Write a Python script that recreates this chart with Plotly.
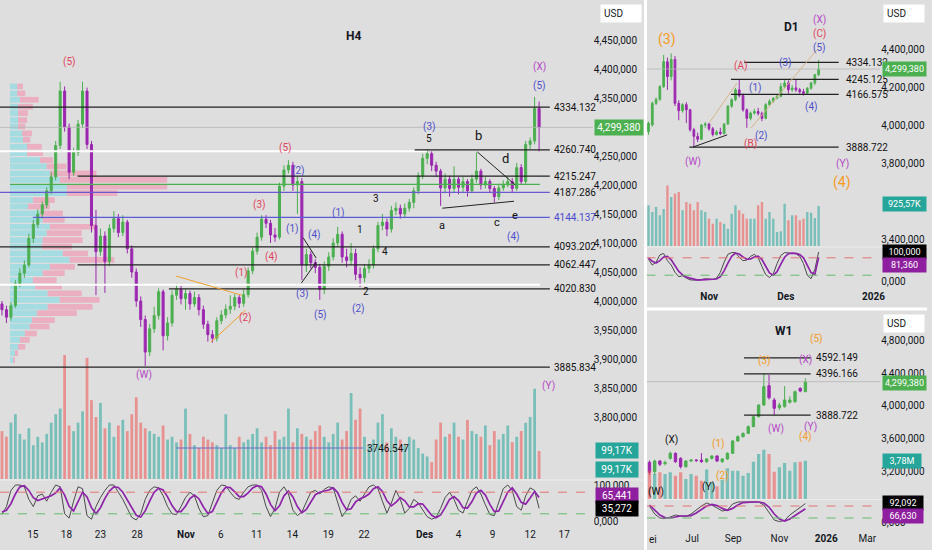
import plotly.graph_objects as go

# ---------------- H4 (main panel) ----------------
h4_close = [3985, 3972, 3992, 4030, 4048, 4062, 4108, 4132, 4150, 4166,
            4190, 4214, 4268, 4362, 4300, 4222, 4256, 4305, 4362, 4270,
            4130, 4085, 4112, 4068, 4125, 4142, 4118, 4136, 4090, 4050,
            4000, 3968, 3912, 3952, 3975, 4016, 3940, 3962, 4010, 4020,
            4004, 4013, 3995, 4006, 3985, 3960, 3942, 3936, 3966, 3976,
            3986, 3991, 4006, 3996, 4011, 4052, 4086, 4110, 4141, 4134,
            4114, 4110, 4198, 4226, 4234, 4200, 4206, 4062, 4080, 4066,
            4058, 4020, 4060, 4076, 4100, 4115, 4076, 4070, 4082, 4046,
            4040, 4056, 4062, 4090, 4130, 4136, 4124, 4156, 4160, 4150,
            4160, 4170, 4190, 4216, 4246, 4254, 4234, 4224, 4195, 4210,
            4194, 4210, 4196, 4206, 4190, 4210, 4224, 4200, 4206, 4194,
            4180, 4195, 4200, 4206, 4194, 4230, 4206, 4270, 4276, 4332,
            4299.38]
h4_high = [4000, 3992, 3998, 4036, 4056, 4070, 4116, 4140, 4158, 4172,
           4196, 4222, 4276, 4378, 4370, 4306, 4264, 4312, 4378, 4368,
           4276, 4157, 4125, 4120, 4132, 4155, 4150, 4148, 4140, 4096,
           4056, 4008, 3975, 3960, 3990, 4022, 4020, 3972, 4018, 4030,
           4026, 4020, 4018, 4016, 4012, 3992, 3966, 3950, 3972, 3984,
           3994, 4010, 4012, 4010, 4020, 4058, 4092, 4118, 4148, 4148,
           4140, 4126, 4204, 4234, 4243, 4240, 4215, 4212, 4090, 4086,
           4072, 4064, 4068, 4084, 4108, 4128, 4120, 4090, 4100, 4090,
           4058, 4064, 4072, 4096, 4136, 4150, 4142, 4164, 4170, 4166,
           4168, 4176, 4196, 4222, 4254, 4262, 4258, 4240, 4228, 4220,
           4216, 4232, 4214, 4214, 4210, 4218, 4256, 4228, 4214, 4210,
           4198, 4202, 4208, 4214, 4212, 4238, 4236, 4276, 4282, 4352,
           4344]
h4_low = [3975, 3962, 3966, 3988, 4024, 4040, 4058, 4100, 4126, 4142,
          4160, 4184, 4208, 4262, 4292, 4210, 4216, 4250, 4298, 4262,
          4118, 4010, 4078, 4014, 4060, 4118, 4110, 4112, 4082, 4040,
          3990, 3955, 3888, 3905, 3945, 3968, 3915, 3932, 3956, 4002,
          3994, 3985, 3985, 3990, 3975, 3952, 3930, 3928, 3930, 3960,
          3970, 3978, 3984, 3988, 3990, 4006, 4046, 4080, 4104, 4126,
          4100, 4102, 4106, 4190, 4220, 4190, 4150, 4036, 4050, 4056,
          4048, 4002, 4012, 4052, 4070, 4094, 4066, 4058, 4062, 4036,
          4024, 4032, 4048, 4056, 4084, 4122, 4112, 4118, 4148, 4142,
          4144, 4154, 4160, 4184, 4210, 4236, 4224, 4214, 4164, 4186,
          4180, 4188, 4184, 4188, 4180, 4186, 4204, 4192, 4194, 4186,
          4170, 4174, 4190, 4196, 4186, 4190, 4200, 4202, 4262, 4270,
          4258]
h4_first_open = 3995
h4_vol = [170, 150, 200, 230, 160, 140, 180, 120, 150, 130,
          160, 200, 230, 250, 440, 190, 170, 200, 240, 430,
          280, 220, 270, 180, 200, 150, 190, 210, 170, 230,
          290, 200, 180, 170, 160, 150, 190, 140, 150, 130,
          140, 250, 160, 120, 110, 150, 140, 130, 120, 110,
          230, 120, 110, 150, 130, 140, 160, 180, 130, 150,
          120, 170, 140, 150, 250, 130, 180, 160, 150, 140,
          170, 190, 150, 130, 160, 200, 140, 170, 305, 210,
          250, 150, 120, 140, 200, 230, 130, 180, 150, 140,
          120, 150, 140, 110, 90, 80, 60, 140, 200, 150,
          160, 200, 150, 140, 210, 170, 160, 150, 190, 120,
          170, 140, 160, 190, 130, 150, 170, 200, 220, 320,
          99.17]
h4_k = [18, 40, 85, 100, 100, 95, 60, 40, 70, 75,
        55, 80, 100, 95, 20, 8, 55, 95, 90, 15,
        5, 40, 65, 85, 100, 100, 80, 60, 35, 10,
        3, 20, 60, 85, 95, 92, 70, 40, 20, 18,
        40, 65, 80, 70, 35, 12, 15, 50, 85, 100,
        98, 80, 65, 60, 80, 95, 100, 100, 85, 40,
        12, 35, 80, 95, 75, 30, 15, 25, 55, 80,
        85, 75, 88, 95, 92, 50, 12, 30, 60, 70,
        55, 75, 95, 100, 90, 55, 22, 50, 85, 60,
        22, 35, 60, 50, 30, 12, 5, 10, 35, 65,
        80, 60, 30, 22, 55, 85, 95, 75, 45, 18,
        15, 50, 90, 100, 85, 40, 30, 70, 92, 85,
        35.272]
h4_d = [25, 30, 48, 75, 95, 98, 85, 65, 57, 62,
        67, 70, 78, 92, 72, 41, 28, 53, 80, 67,
        37, 20, 37, 63, 83, 95, 93, 80, 58, 35,
        16, 11, 28, 55, 80, 91, 86, 67, 43, 26,
        26, 41, 62, 72, 62, 39, 21, 26, 50, 78,
        94, 93, 81, 68, 68, 78, 92, 98, 95, 75,
        46, 29, 42, 70, 83, 67, 40, 23, 32, 53,
        73, 80, 83, 86, 92, 79, 51, 31, 34, 53,
        62, 67, 75, 90, 95, 82, 56, 42, 52, 65,
        56, 39, 39, 48, 47, 31, 16, 9, 17, 37,
        60, 68, 57, 37, 36, 54, 78, 85, 72, 46,
        26, 28, 52, 80, 92, 75, 52, 47, 64, 82,
        65.441]
h4_tick_pos = [6.9, 14.4, 22.0, 30.2, 41.1, 48.9, 56.9, 64.9, 72.9, 80.9,
               94.4, 102.0, 109.6, 118.0, 125.6]
h4_tick_text = ["15", "18", "23", "28", "<b>Nov</b>", "6", "11", "14", "19", "22",
                "<b>Des</b>", "4", "9", "12", "17"]
h4_price_ticks = [3800, 3850, 3900, 3950, 4000, 4050, 4100, 4150,
                  4200, 4250, 4350, 4400, 4450]
h4_price_text = ["3,800,000", "3,850,000", "3,900,000", "3,950,000",
                 "4,000,000", "4,050,000", "4,100,000", "4,150,000", "4,200,000",
                 "4,250,000", "4,350,000", "4,400,000", "4,450,000"]

# volume profile (left side of H4)
vp_price = [4370, 4358, 4347, 4335, 4324, 4312, 4301, 4289, 4278, 4266,
            4255, 4243, 4232, 4220, 4209, 4197, 4186, 4174, 4163, 4151,
            4140, 4128, 4117, 4105, 4094, 4082, 4071, 4059, 4048, 4036,
            4025, 4013, 4002, 3990, 3979, 3967, 3956, 3944, 3933, 3921,
            3910, 3898]
vp_buy = [1.6, 1.6, 2.2, 1.8, 1.8, 1.8, 1.8, 2.7, 2.9, 3.8,
          3.8, 6.7, 8.2, 8.9, 11.1, 12.7, 12.7, 5.1, 4.0, 6.7,
          7.3, 8.9, 8.2, 7.3, 7.1, 11.8, 13.3, 8.9, 7.3, 5.1,
          5.6, 8.4, 11.1, 8.4, 6.0, 4.9, 4.4, 3.3, 2.2, 1.8,
          1.1, 0.7]
vp_sell = [1.3, 1.8, 4.2, 3.3, 2.2, 2.0, 1.6, 2.2, 1.6, 3.3,
           3.6, 2.9, 4.4, 10.4, 24.0, 22.4, 11.3, 4.9, 4.9, 5.1,
           4.9, 10.4, 7.8, 8.9, 6.7, 5.6, 10.0, 5.6, 4.9, 5.3,
           6.0, 7.6, 8.9, 10.0, 8.9, 5.1, 4.4, 2.7, 2.2, 1.6,
           0.7, 0.4]
vp_start = 1.8

# labelled horizontal levels
h4_levels = [4334.132, 4260.740, 4215.247, 4187.286, 4144.137,
             4093.202, 4062.447, 4020.830, 3885.834, 3746.547]
h4_level_x0 = [-0.44, 92.2, 16.9, -0.44, 6.9, -0.44, 16.9, 37.3, -0.44, 38.9]
h4_level_x1 = [122.4, 122.4, 122.4, 122.4, 122.4, 122.4, 122.4, 122.4, 122.4, 80.7]
h4_level_col = ["#222", "#222", "#222", "#6a5acd", "#5b5bd6",
                "#222", "#222", "#222", "#222", "#6a6ac8"]
h4_label_col = ["#111", "#111", "#111", "#111", "#4a4ad0",
                "#111", "#111", "#111", "#111", "#111"]
# unlabelled lines
h4_plain = [4258, 4201, 4028]
h4_plain_x0 = [-0.44, 1.8, -0.44]
h4_plain_x1 = [95, 120.2, 120.2]
h4_plain_col = ["#ffffff", "#4caf50", "#ffffff"]
h4_plain_w = [2, 1.2, 2]

# trendlines
h4_tl_x0 = [38.9, 46.7, 67.3, 66.9, 106.2, 98.4]
h4_tl_y0 = [4043, 3929, 4109, 4031, 4257, 4160]
h4_tl_x1 = [53.6, 54.4, 70.2, 70.2, 114.7, 114.4]
h4_tl_y1 = [4010, 3984, 4074, 4067, 4200, 4172]
h4_tl_col = ["#f0a030", "#f0a030", "#222", "#222", "#222", "#222"]

RED, BLUE, PURP, ORNG, BLK = "#e0435b", "#4f4fc9", "#b548c6", "#f59a23", "#111111"
h4_wave_text = ["(5)", "(5)", "(2)", "(3)", "(1)", "(4)", "(4)", "(1)", "(2)", "(3)",
                "(5)", "(1)", "1", "3", "4", "2", "(2)", "(3)", "5", "b",
                "d", "a", "c", "e", "(4)", "(5)", "(X)", "(W)", "(Y)"]
h4_wave_x = [15.1, 63.3, 66.2, 57.6, 64.9, 69.8, 60.2, 53.6, 54.4, 67.1,
             71.1, 75.1, 80.0, 83.6, 85.6, 81.3, 79.6, 95.6, 95.3, 106.4,
             112.4, 98.2, 110.7, 114.7, 114.2, 120.2, 120.2, 31.8, 122.2]
h4_wave_y = [4412, 4264, 4224, 4166, 4124, 4114, 4076, 4048, 3971, 4012,
             3976, 4152, 4124, 4176, 4085, 4016, 3986, 4300, 4281, 4286,
             4245, 4131, 4136, 4148, 4110, 4371, 4403, 3872, 3853]
h4_wave_col = [RED, RED, BLUE, RED, BLUE, BLUE, RED, RED, RED, BLUE,
               BLUE, BLUE, BLK, BLK, BLK, BLK, BLUE, BLUE, BLK, BLK,
               BLK, BLK, BLK, BLK, BLUE, BLUE, PURP, PURP, PURP]

# ---------------- D1 ----------------
d1_open = [3970, 4005, 4119, 4140, 4207, 4338, 4260, 4350, 4119, 4080,
           4112, 4085, 3980, 3945, 3930, 4005, 4010, 3985, 3955, 3968,
           3960, 4010, 4104, 4138, 4190, 4160, 4085, 4040, 4068, 4076,
           4066, 4040, 4112, 4130, 4146, 4156, 4207, 4226, 4190, 4200,
           4190, 4180, 4172, 4198, 4226, 4270]
d1_high = [4023, 4128, 4150, 4215, 4374, 4360, 4382, 4368, 4135, 4120,
           4125, 4090, 3990, 3965, 4010, 4020, 4015, 3995, 3978, 3990,
           4015, 4110, 4145, 4200, 4245, 4170, 4092, 4075, 4090, 4095,
           4075, 4120, 4140, 4152, 4165, 4225, 4245, 4240, 4215, 4245,
           4200, 4195, 4205, 4232, 4275, 4348]
d1_low = [3953, 3997, 4110, 4132, 4200, 4190, 4240, 4105, 4030, 4070,
          4015, 3970, 3890, 3915, 3925, 3990, 3975, 3945, 3950, 3952,
          3955, 4005, 4095, 4130, 4150, 4075, 3990, 4030, 4060, 4055,
          4025, 4035, 4105, 4122, 4140, 4150, 4200, 4170, 4180, 4180,
          4170, 4160, 4165, 4190, 4215, 4262]
d1_close = [4014, 4119, 4140, 4207, 4338, 4260, 4350, 4119, 4080, 4112,
            4085, 3980, 3945, 3930, 4005, 4010, 3985, 3955, 3968, 3960,
            4010, 4104, 4138, 4190, 4160, 4085, 4040, 4068, 4076, 4066,
            4040, 4112, 4130, 4146, 4156, 4207, 4226, 4190, 4200, 4190,
            4180, 4172, 4198, 4226, 4270, 4299.38]
d1_vol = [940, 785, 900, 709, 855, 1400, 1132, 1208, 1247, 825,
          1016, 977, 825, 1016, 825, 785, 631, 515, 631, 554,
          515, 400, 746, 940, 825, 746, 631, 631, 631, 940,
          1016, 631, 785, 631, 323, 339, 977, 593, 709, 709,
          593, 631, 785, 770, 647, 925.57]
d1_k = [75, 55, 65, 90, 95, 70, 55, 30, 15, 18,
        10, 4, 3, 3, 5, 8, 6, 5, 10, 30,
        65, 92, 98, 98, 82, 70, 72, 85, 92, 80,
        50, 22, 12, 25, 60, 88, 98, 96, 95, 94,
        85, 60, 20, 8, 40, 100]
d1_d = [80, 68, 62, 70, 83, 85, 73, 52, 33, 21,
        14, 10, 6, 3, 4, 5, 6, 6, 7, 15,
        35, 62, 85, 96, 93, 83, 75, 76, 83, 86,
        74, 51, 28, 20, 32, 58, 82, 94, 96, 95,
        91, 80, 55, 29, 23, 81.36]
d1_tick_pos = [16.05, 36.3, 59.5]
d1_tick_text = ["<b>Nov</b>", "<b>Des</b>", "<b>2026</b>"]
d1_price_ticks = [3400, 3800, 4000, 4200, 4400]
d1_price_text = ["3,400,000", "3,800,000", "4,000,000", "4,200,000", "4,400,000"]
d1_levels = [4334.132, 4245.125, 4166.575, 3888.722]
d1_level_x0 = [25.3, 21.8, 21.8, 10.8]
d1_level_x1 = [50.3, 50.3, 50.3, 50.3]
d1_tl_x0 = [11.8, 16.05, 27.1]
d1_tl_y0 = [3889, 4016, 3989]
d1_tl_x1 = [20.8, 23.4, 44.5]
d1_tl_y1 = [3953, 4226, 4400]
d1_tl_col = ["#222", "#d8b48a", "#d8b48a"]
d1_wave_text = ["(3)", "(X)", "(C)", "(5)", "(A)", "(3)", "(1)", "(4)", "(2)", "(B)",
                "(W)", "(Y)", "(4)"]
d1_wave_x = [5.0, 45.3, 45.3, 45.3, 24.2, 36.3, 28.2, 43.2, 30.0, 27.1, 11.8, 51.3, 51.3]
d1_wave_y = [4453, 4558, 4484, 4411, 4316, 4332, 4200, 4100, 3947, 3905, 3811, 3800, 3700]
d1_wave_col = [ORNG, PURP, RED, BLUE, RED, BLUE, BLUE, BLUE, BLUE, RED, PURP, PURP, ORNG]

# ---------------- W1 ----------------
w1_open = [3307, 3192, 3323, 3290, 3356, 3418, 3356, 3254, 3323, 3335,
           3335, 3315, 3356, 3385, 3315, 3348, 3418, 3569, 3622, 3663,
           3746, 3868, 4012, 4250, 4074, 3979, 3992, 4045, 4053, 4217,
           4176]
w1_high = [3330, 3340, 3335, 3330, 3440, 3430, 3370, 3335, 3345, 3345,
           3420, 3360, 3395, 3395, 3360, 3430, 3580, 3640, 3675, 3760,
           3880, 4020, 4396, 4381, 4100, 4040, 4245, 4120, 4190, 4230,
           4340]
w1_low = [3150, 3150, 3260, 3270, 3340, 3300, 3230, 3240, 3310, 3310,
          3300, 3300, 3340, 3310, 3300, 3340, 3410, 3560, 3615, 3655,
          3740, 3860, 4000, 4080, 3888, 3950, 3980, 4030, 4040, 4170,
          4170]
w1_close = [3184, 3323, 3283, 3305, 3418, 3315, 3254, 3323, 3335, 3330,
            3315, 3348, 3385, 3323, 3348, 3418, 3569, 3622, 3663, 3746,
            3868, 4012, 4238, 4102, 3971, 4012, 4074, 4074, 4176, 4184,
            4299.38]
w1_vol = [2.80, 2.47, 2.63, 2.47, 2.63, 2.30, 2.63, 1.97, 2.47, 2.30,
          1.81, 2.90, 1.65, 1.25, 1.91, 3.03, 2.80, 2.80, 2.30, 2.57,
          3.68, 4.44, 4.87, 4.44, 2.70, 3.13, 3.55, 2.80, 3.62, 3.68,
          3.78]
w1_k = [80, 40, 20, 18, 25, 35, 30, 28, 40, 60,
        80, 95, 85, 70, 55, 60, 90, 100, 100, 100,
        100, 100, 85, 50, 10, 2, 8, 35, 55, 75,
        92.092]
w1_d = [85, 60, 35, 22, 20, 25, 30, 30, 32, 45,
        62, 80, 88, 82, 68, 58, 68, 85, 97, 100,
        100, 100, 95, 75, 40, 15, 5, 15, 32, 50,
        66.63]
w1_tick_pos = [8.2, 16.1, 25.0, 34.0, 41.9]
w1_tick_text = ["Jul", "Sep", "Nov", "<b>2026</b>", "Mar"]
w1_price_ticks = [3200, 3600, 4000, 4400, 4800]
w1_price_text = ["3,200,000", "3,600,000", "4,000,000", "4,400,000", "4,800,000"]
w1_levels = [4592.149, 4396.166, 3888.722]
w1_level_x0 = [18.2, 18.2, 18.2]
w1_level_x1 = [31.0, 31.0, 31.0]
w1_wave_text = ["(5)", "(3)", "(X)", "(W)", "(Y)", "(4)", "(X)", "(1)", "(2)", "(Y)", "(W)"]
w1_wave_x = [32.1, 22.2, 30.0, 24.3, 31.0, 30.0, 4.2, 13.2, 14.1, 11.3, 1.3]
w1_wave_y = [4824, 4554, 4566, 3717, 3742, 3619, 3582, 3533, 3139, 3004, 2942]
w1_wave_col = [ORNG, ORNG, PURP, PURP, PURP, ORNG, BLK, ORNG, ORNG, BLK, BLK]

LAST = 4299.38

# ---------------- drawing ----------------
W, H = 932, 550
BG = "#dedede"
INK = "#131722"
UP, DOWN = "#4caf50", "#9c27b0"
VUP, VDN = "rgba(38,166,154,0.55)", "rgba(239,83,80,0.55)"


def fx(px):
    return px / W


def fy(py):
    return 1 - py / H


fig = go.Figure()


def add_panel(o, h, l, c, vol, k, d, xa, ya, yv, ys):
    idx = list(range(len(c)))
    fig.add_trace(go.Bar(x=idx, y=vol, width=0.62, xaxis=xa, yaxis=yv,
                         marker=dict(color=[VUP if cc >= oo else VDN for oo, cc in zip(o, c)],
                                     line=dict(width=0)),
                         hoverinfo="skip"))
    fig.add_trace(go.Candlestick(x=idx, open=o, high=h, low=l, close=c,
                                 xaxis=xa, yaxis=ya, whiskerwidth=0,
                                 increasing=dict(line=dict(color=UP, width=1), fillcolor=UP),
                                 decreasing=dict(line=dict(color=DOWN, width=1), fillcolor=DOWN),
                                 hoverinfo="skip"))
    fig.add_trace(go.Scatter(x=idx, y=k, mode="lines", xaxis=xa, yaxis=ys,
                             line=dict(color="#4a4a4a", width=1), hoverinfo="skip"))
    fig.add_trace(go.Scatter(x=idx, y=d, mode="lines", xaxis=xa, yaxis=ys,
                             line=dict(color="#8e24aa", width=1.7), hoverinfo="skip"))


# volume profile first so candles sit over it
fig.add_trace(go.Bar(y=vp_price, x=vp_buy, base=vp_start, orientation="h", width=9.8,
                     marker=dict(color="rgba(125,218,228,0.6)", line=dict(width=0)),
                     xaxis="x", yaxis="y", hoverinfo="skip"))
fig.add_trace(go.Bar(y=vp_price, x=vp_sell, base=[vp_start + b for b in vp_buy],
                     orientation="h", width=9.8,
                     marker=dict(color="rgba(240,150,178,0.65)", line=dict(width=0)),
                     xaxis="x", yaxis="y", hoverinfo="skip"))

h4_open = [h4_first_open] + h4_close[:-1]
add_panel(h4_open, h4_high, h4_low, h4_close, h4_vol, h4_k, h4_d, "x", "y", "y2", "y3")
add_panel(d1_open, d1_high, d1_low, d1_close, d1_vol, d1_k, d1_d, "x2", "y4", "y5", "y6")
add_panel(w1_open, w1_high, w1_low, w1_close, w1_vol, w1_k, w1_d, "x3", "y7", "y8", "y9")

shapes = []
ann = []


def seg(xr, yr, x0, y0, x1, y1, color, width=1.1, dash="solid"):
    shapes.append(dict(type="line", xref=xr, yref=yr, x0=x0, y0=y0, x1=x1, y1=y1,
                       line=dict(color=color, width=width, dash=dash)))


def text(xr, yr, x, y, t, color, size=10, xanchor="center", bold=False):
    ann.append(dict(xref=xr, yref=yr, x=x, y=y, text=f"<b>{t}</b>" if bold else t,
                    showarrow=False, xanchor=xanchor, yanchor="middle",
                    font=dict(color=color, size=size)))


def tag(px_left, py, t, bg, fg="white", w=42, size=10):
    ann.append(dict(xref="paper", yref="paper", x=fx(px_left), y=fy(py), text=t,
                    showarrow=False, xanchor="left", yanchor="middle", width=w,
                    bgcolor=bg, borderpad=2, font=dict(color=fg, size=size)))


# current-price lines
for xr, yr in (("x domain", "y"), ("x2 domain", "y4"), ("x3 domain", "y7")):
    seg(xr, yr, 0, LAST, 1, LAST, "#b5b5b5", 0.8)

# stochastic bands
for xr, yr in (("x domain", "y3"), ("x2 domain", "y6"), ("x3 domain", "y9")):
    seg(xr, yr, 0, 80, 1, 80, "#e57373", 1, "dash")
    seg(xr, yr, 0, 20, 1, 20, "#66bb6a", 1, "dash")

# H4 lines and labels
for lv, x0, x1, col, w in zip(h4_plain, h4_plain_x0, h4_plain_x1, h4_plain_col, h4_plain_w):
    seg("x", "y", x0, lv, x1, lv, col, w)
for lv, x0, x1, col, lc in zip(h4_levels, h4_level_x0, h4_level_x1, h4_level_col, h4_label_col):
    seg("x", "y", x0, lv, x1, lv, col, 1.2)
    text("x", "y", x1 + 0.45, lv, f"{lv:.3f}", lc, 10, "left")
for x0, y0, x1, y1, col in zip(h4_tl_x0, h4_tl_y0, h4_tl_x1, h4_tl_y1, h4_tl_col):
    seg("x", "y", x0, y0, x1, y1, col, 1)
for t, x, y, col in zip(h4_wave_text, h4_wave_x, h4_wave_y, h4_wave_col):
    size = 13 if t in ("b", "d") else (11 if t in ("a", "c", "e") else 10)
    text("x", "y", x, y, t, col, size)

# D1 lines and labels
for lv, x0, x1 in zip(d1_levels, d1_level_x0, d1_level_x1):
    seg("x2", "y4", x0, lv, x1, lv, "#222", 1.2)
    text("x2", "y4", x1 + 1.3, lv, f"{lv:.3f}", "#111", 10, "left")
for x0, y0, x1, y1, col in zip(d1_tl_x0, d1_tl_y0, d1_tl_x1, d1_tl_y1, d1_tl_col):
    seg("x2", "y4", x0, y0, x1, y1, col, 1)
for t, x, y, col in zip(d1_wave_text, d1_wave_x, d1_wave_y, d1_wave_col):
    text("x2", "y4", x, y, t, col, 14 if col == ORNG else 10)

# W1 lines and labels
for lv, x0, x1 in zip(w1_levels, w1_level_x0, w1_level_x1):
    seg("x3", "y7", x0, lv, x1, lv, "#222", 1.2)
    text("x3", "y7", x1 + 0.6, lv, f"{lv:.3f}", "#111", 10, "left")
for t, x, y, col in zip(w1_wave_text, w1_wave_x, w1_wave_y, w1_wave_col):
    text("x3", "y7", x, y, t, col, 10)

# titles, plus the clipped month name at the W1 left edge
text("paper", "paper", fx(355), fy(36), "H4", INK, 12, bold=True)
text("paper", "paper", fx(796), fy(27), "D1", INK, 12, bold=True)
text("paper", "paper", fx(788), fy(331), "W1", INK, 12, bold=True)
text("paper", "paper", fx(650), fy(539), "ei", INK, 10, "left")

# axis tags
for left, py in ((603, 13), (888, 13), (888, 323)):
    ann.append(dict(xref="paper", yref="paper", x=fx(left), y=fy(py), text="USD",
                    showarrow=False, xanchor="left", yanchor="middle", width=34, align="left",
                    bgcolor="white", borderpad=3, font=dict(color=INK, size=10)))
tag(597, 128, "4,299,380", "#4caf50", w=44)
tag(887, 69, "4,299,380", "#4caf50", w=39, size=9)
tag(887, 383, "4,299,380", "#4caf50", w=39, size=9)
tag(598, 450, "99,17K", "#26a69a", w=38)
tag(598, 469, "99,17K", "#26a69a", w=38)
tag(598, 495, "65,441", "#8e1f9e", w=38)
tag(598, 508, "35,272", "#000000", w=38)
tag(887, 204, "925,57K", "#26a69a", w=39, size=9)
tag(887, 252, "100,000", "#000000", w=39, size=9)
tag(887, 265, "81,360", "#8e1f9e", w=39, size=9)
tag(887, 461, "3,78M", "#26a69a", w=34, size=9)
tag(887, 503, "92,092", "#000000", w=36, size=9)
tag(887, 516, "66,630", "#8e1f9e", w=36, size=9)

# panel separators
shapes.append(dict(type="line", xref="paper", yref="paper", x0=fx(649), x1=fx(649), y0=0, y1=1,
                   line=dict(color="white", width=3)))
shapes.append(dict(type="line", xref="paper", yref="paper", x0=fx(649), x1=1, y0=fy(309), y1=fy(309),
                   line=dict(color="white", width=3)))
for x0, x1, py in ((0, 647, 480), (650, 932, 247), (650, 932, 499.5)):
    shapes.append(dict(type="line", xref="paper", yref="paper", x0=fx(x0), x1=fx(x1),
                       y0=fy(py), y1=fy(py), line=dict(color="#ececec", width=1)))

ax = dict(showgrid=False, zeroline=False, showline=False, ticks="",
          tickfont=dict(size=10, color=INK), fixedrange=True)

fig.update_layout(
    width=W, height=H, margin=dict(l=0, r=0, t=0, b=0),
    paper_bgcolor=BG, plot_bgcolor=BG, showlegend=False, barmode="overlay",
    font=dict(family="Roboto, Liberation Sans, sans-serif", size=10, color=INK),
    xaxis=dict(ax, domain=[0, fx(596)], range=[-0.44, 132], anchor="free", position=fy(527),
               tickvals=h4_tick_pos, ticktext=h4_tick_text, rangeslider=dict(visible=False)),
    xaxis2=dict(ax, domain=[fx(650), fx(885)], range=[-0.53, 61.3], anchor="free", position=fy(289),
                tickvals=d1_tick_pos, ticktext=d1_tick_text, rangeslider=dict(visible=False)),
    xaxis3=dict(ax, domain=[fx(650), fx(885)], range=[-0.57, 44.4], anchor="free", position=fy(531),
                tickvals=w1_tick_pos, ticktext=w1_tick_text, rangeslider=dict(visible=False)),
    yaxis=dict(ax, domain=[fy(479), 1], range=[3693.1, 4519.0], anchor="x", side="right",
               tickvals=h4_price_ticks, ticktext=h4_price_text),
    yaxis2=dict(ax, overlaying="y", range=[0, 1700], anchor="x", visible=False),
    yaxis3=dict(ax, domain=[fy(528), fy(480)], range=[-19.4, 113.9], anchor="x", side="right",
                tickvals=[0, 100], ticktext=["0,000", "100,000"]),
    yaxis4=dict(ax, domain=[fy(246), 1], range=[3368, 4663], anchor="x2", side="right",
                tickvals=d1_price_ticks, ticktext=d1_price_text),
    yaxis5=dict(ax, overlaying="y4", range=[0, 5683], anchor="x2", visible=False),
    yaxis6=dict(ax, domain=[fy(290), fy(248)], range=[-31, 113.8], anchor="x2", side="right",
                tickvals=[0], ticktext=["0,000"]),
    yaxis7=dict(ax, domain=[fy(499), fy(312)], range=[2856, 5156], anchor="x3", side="right",
                tickvals=w1_price_ticks, ticktext=w1_price_text),
    yaxis8=dict(ax, overlaying="y7", range=[0, 18.46], anchor="x3", visible=False),
    yaxis9=dict(ax, domain=[fy(530), fy(500)], range=[-40, 110], anchor="x3", side="right",
                tickvals=[0], ticktext=["0,000"]),
    shapes=shapes, annotations=ann, boxgap=0.35,
)

# the page body has a default margin; drop it so the figure sits at the window origin
fig.write_html("out.html", config={"displayModeBar": False},
               post_script="document.body.style.margin='0px';")
